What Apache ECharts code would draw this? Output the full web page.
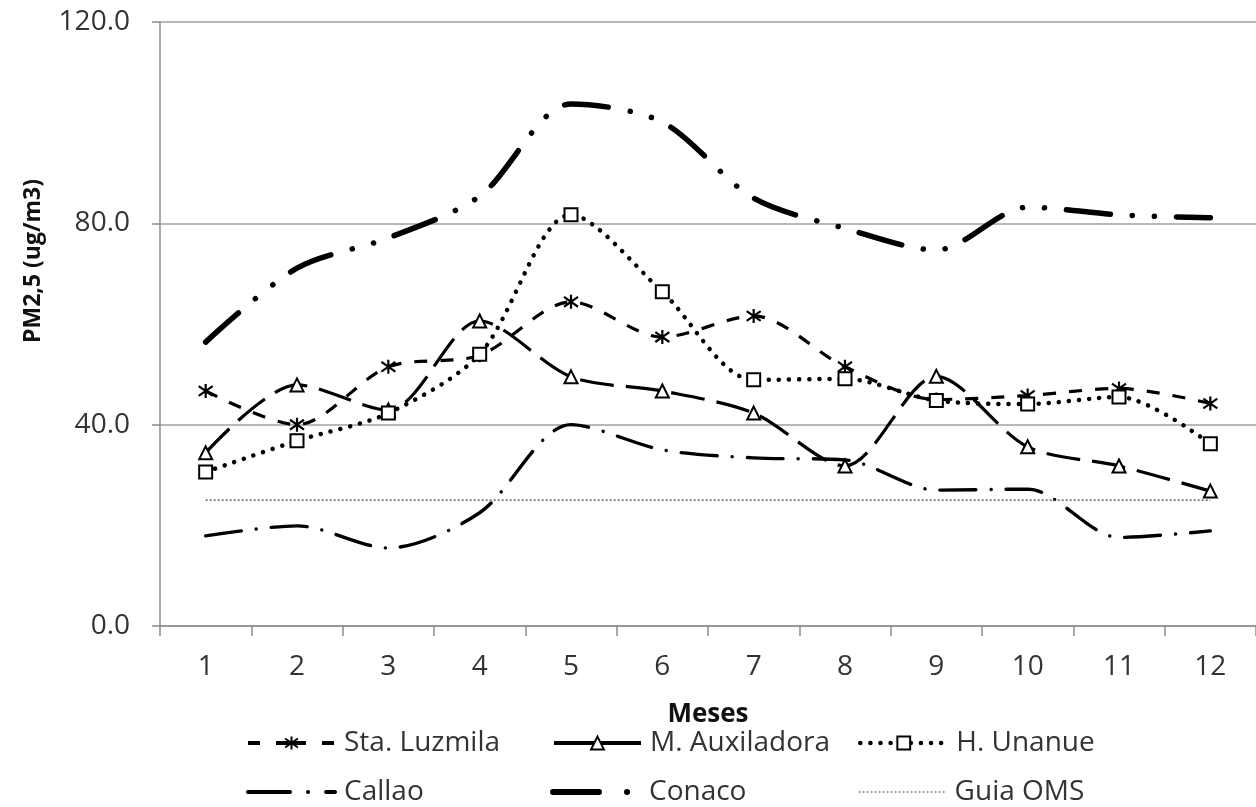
<!DOCTYPE html>
<html><head><meta charset="utf-8">
<script src="https://cdn.jsdelivr.net/npm/echarts@6/dist/echarts.min.js"></script>
<style>html,body{margin:0;padding:0;background:#fff}#c{width:1256px;height:807px}</style>
</head><body><div id="c"></div>
<script>
const months = ['1','2','3','4','5','6','7','8','9','10','11','12'];
const staLuzmila = [46.7, 40.0, 51.5, 53.8, 64.4, 57.4, 61.6, 51.5, 45.0, 45.8, 47.2, 44.2];
const mAuxiladora = [34.4, 47.9, 42.9, 60.6, 49.5, 46.7, 42.3, 31.8, 49.6, 35.6, 31.8, 26.8];
const hUnanue = [30.6, 36.8, 42.3, 54.0, 81.7, 66.4, 48.9, 49.1, 44.8, 44.1, 45.5, 36.2];
const callao = [17.9, 19.9, 15.5, 22.5, 40.0, 35.0, 33.4, 33.0, 27.0, 27.2, 17.6, 18.9];
const conaco = [56.4, 71.1, 77.1, 85.4, 103.7, 100.1, 85.0, 79.0, 74.7, 83.2, 81.7, 81.1];
const guiaOMS = [25, 25, 25, 25, 25, 25, 25, 25, 25, 25, 25, 25];
const yTicks = [0, 40, 80, 120];

const FONT = 'Open Sans';
const chart = echarts.init(document.getElementById('c'));
const asterisk = 'path://M5 0 L5 10 M0.7 1.5 L9.3 8.5 M0.7 8.5 L9.3 1.5';

function legend(name, left, top, lineStyle, hideSymbol) {
  const l = {
    data: [name], left: left, top: top, orient: 'horizontal',
    itemWidth: 87, itemHeight: 16, itemGap: 0,
    textStyle: { fontFamily: FONT, fontSize: 28, color: '#333', padding: [0, 0, 0, 4] },
    lineStyle: lineStyle,
    padding: 0
  };
  if (hideSymbol) l.itemStyle = { color: 'rgba(0,0,0,0)', borderColor: 'rgba(0,0,0,0)', borderWidth: 0 };
  return l;
}

chart.setOption({
  animation: false,
  backgroundColor: '#fff',
  grid: { left: 160, right: 0, top: 22, bottom: 181, containLabel: false },
  xAxis: {
    type: 'category', data: months, boundaryGap: true,
    name: 'Meses', nameLocation: 'middle', nameGap: 76,
    nameTextStyle: { fontFamily: FONT, fontSize: 26, fontWeight: 'bold', color: '#111' },
    axisLine: { lineStyle: { color: '#8c8c8c', width: 1.5 } },
    axisTick: { show: true, length: 10, lineStyle: { color: '#8c8c8c', width: 1.5 } },
    axisLabel: { fontFamily: FONT, fontSize: 28, color: '#333', margin: 27 },
    splitLine: { show: false }
  },
  yAxis: {
    type: 'value', min: 0, max: 120, interval: 40,
    axisLine: { show: true, lineStyle: { color: '#8c8c8c', width: 1.5 } },
    axisTick: { show: true, length: 8, lineStyle: { color: '#8c8c8c', width: 1.5 } },
    axisLabel: { fontFamily: FONT, fontSize: 28, color: '#333', margin: 30,
      formatter: v => yTicks.includes(v) ? v.toFixed(1) : '' },
    splitLine: { show: true, lineStyle: { color: '#a0a0a0', width: 1.5 } }
  },
  graphic: [{
    type: 'text', x: 33, y: 261, rotation: Math.PI / 2,
    style: { text: 'PM2,5 (ug/m3)', fontFamily: FONT, fontSize: 23, fontWeight: 'bold',
      fill: '#111', textAlign: 'center', textVerticalAlign: 'middle' }
  }],
  legend: [
    legend('Sta. Luzmila', 246, 729, { color: '#000', width: 4, type: [12, 16, 30, 16, 12], cap: 'butt' }),
    legend('M. Auxiladora', 552, 729, { color: '#000', width: 4, type: 'solid' }),
    legend('H. Unanue', 858, 729, { color: '#000', width: 4.5, type: [0.1, 10], cap: 'round' }),
    legend('Callao', 246, 778, { color: '#000', width: 4, type: [42, 18, 0.1, 18], cap: 'round' }, true),
    legend('Conaco', 550, 778, { color: '#000', width: 6, type: [46, 28, 0.1, 30], cap: 'round' }, true),
    legend('Guia OMS', 858, 778, { color: '#444', width: 1.2, type: [2, 2] }, true)
  ],
  series: [
    { name: 'Sta. Luzmila', type: 'line', data: staLuzmila, smooth: 0.3,
      symbol: asterisk, symbolSize: 14,
      itemStyle: { color: 'none', borderColor: '#000', borderWidth: 2.2 },
      lineStyle: { color: '#000', width: 3.2, type: [13, 13] } },
    { name: 'M. Auxiladora', type: 'line', data: mAuxiladora, smooth: 0.3,
      symbol: 'triangle', symbolSize: 13,
      itemStyle: { color: '#fff', borderColor: '#000', borderWidth: 2 },
      lineStyle: { color: '#000', width: 3.2, type: [34, 12] } },
    { name: 'H. Unanue', type: 'line', data: hUnanue, smooth: 0.3,
      symbol: 'rect', symbolSize: 13,
      itemStyle: { color: '#fff', borderColor: '#000', borderWidth: 2 },
      lineStyle: { color: '#000', width: 4.5, type: [0.1, 10], cap: 'round' } },
    { name: 'Callao', type: 'line', data: callao, smooth: 0.3,
      symbol: 'none',
      itemStyle: { color: '#000' },
      lineStyle: { color: '#000', width: 3.4, type: [36, 15, 0.1, 15], cap: 'round' } },
    { name: 'Conaco', type: 'line', data: conaco, smooth: 0.3,
      symbol: 'none',
      itemStyle: { color: '#000' },
      lineStyle: { color: '#000', width: 5.5, type: [44, 22, 0.1, 22, 0.1, 22], cap: 'round' } },
    { name: 'Guia OMS', type: 'line', data: guiaOMS,
      symbol: 'none',
      itemStyle: { color: '#444' },
      lineStyle: { color: '#444', width: 1.2, type: [2, 2] } }
  ]
});
</script></body></html>
